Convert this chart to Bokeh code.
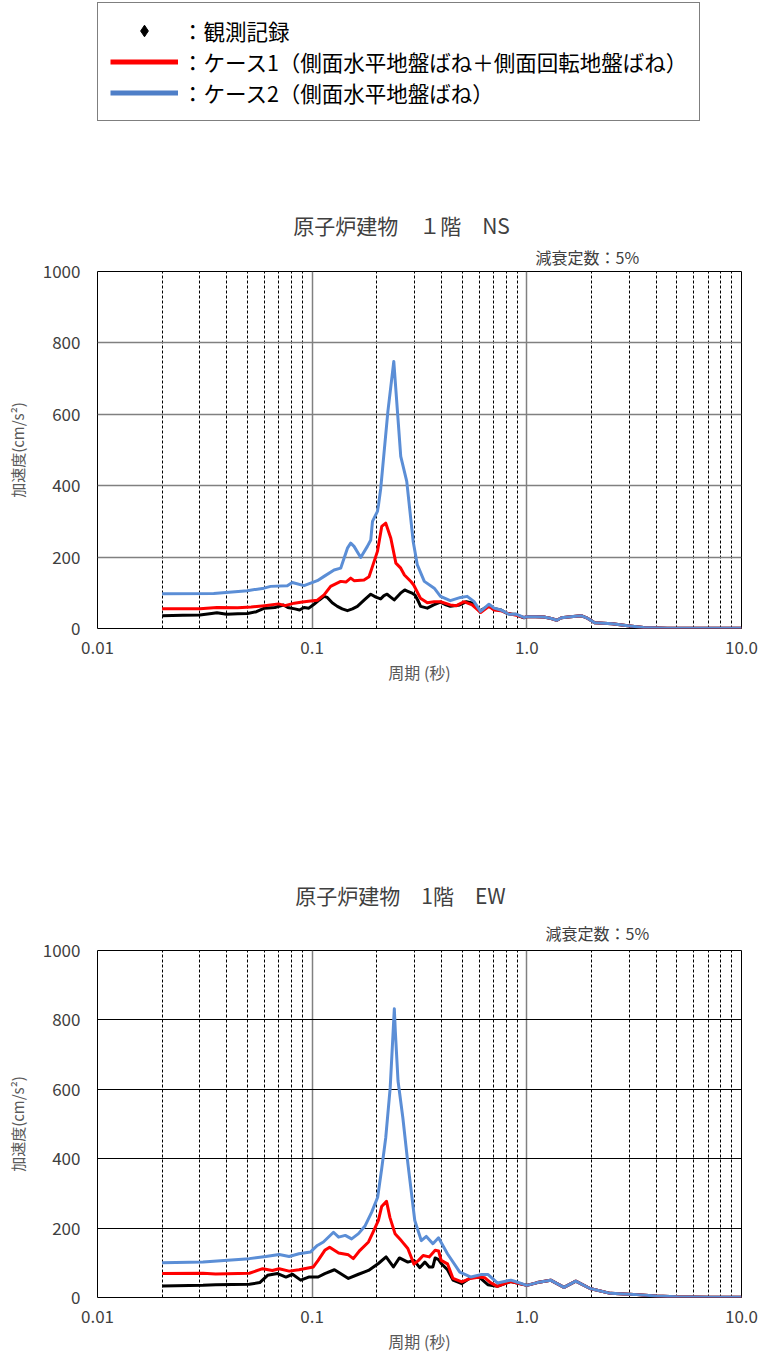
from bokeh.plotting import figure
from bokeh.models import Range1d, FixedTicker, Label, Legend, LegendItem, Title
from bokeh.layouts import column
from bokeh.embed import file_html
from bokeh.resources import INLINE

# ---------------- data ----------------
xtick_values = [0.01, 0.1, 1.0, 10.0]
xtick_labels = ["0.01", "0.1", "1.0", "10.0"]
xminor_values = [0.02, 0.03, 0.04, 0.05, 0.06, 0.07, 0.08, 0.09,
                 0.2, 0.3, 0.4, 0.5, 0.6, 0.7, 0.8, 0.9,
                 2, 3, 4, 5, 6, 7, 8, 9]
ytick_values = [0, 200, 400, 600, 800, 1000]

legend_labels = ["：観測記録",
                 "：ケース1（側面水平地盤ばね＋側面回転地盤ばね）",
                 "：ケース2（側面水平地盤ばね）"]

ns_title = "原子炉建物　１階　NS"
ew_title = "原子炉建物　1階　EW"
damping_text = "減衰定数：5%"
x_label = "周期 (秒)"
y_label = "加速度(cm/s²)"

# NS shared long-period tail
T_ns_tail = [1.1, 1.2, 1.3, 1.38, 1.45, 1.6, 1.79, 1.9, 2.07, 2.5, 2.95, 3.5, 4.5, 6.0, 10.0]
A_ns_tail = [33, 32, 28, 23, 30, 33, 36, 30, 16, 13, 8, 3, 1, 1, 1]

# NS observed (black)
T_ns_obs = [0.02, 0.025, 0.03, 0.034, 0.036, 0.04, 0.045, 0.05, 0.055, 0.06, 0.067, 0.0735,
            0.077, 0.083, 0.0873, 0.0916, 0.0965, 0.102, 0.108, 0.1136, 0.1176, 0.124, 0.131,
            0.138, 0.146, 0.154, 0.1624, 0.175, 0.1875, 0.198, 0.2085, 0.216, 0.2234, 0.232,
            0.2411, 0.258, 0.27, 0.2773, 0.29, 0.3012, 0.31, 0.32, 0.344, 0.368, 0.396, 0.42,
            0.44, 0.487, 0.523, 0.563, 0.603, 0.64, 0.666, 0.70, 0.756, 0.81, 0.85, 0.89, 0.93,
            0.97, 1.0]
A_ns_obs = [36, 37, 38, 42, 44, 40, 41, 42, 47, 57, 59, 66,
            59, 55, 52, 59, 57, 68, 80, 90, 87, 72, 62,
            55, 50, 55, 62, 80, 96, 88, 83, 92, 96, 88,
            80, 99, 108, 105, 100, 94, 80, 62, 57, 66, 74, 66,
            62, 66, 75, 71, 48, 58, 62, 56, 52, 42, 40, 40, 34,
            30, 33]

# NS case 1 (red)
T_ns_c1 = [0.02, 0.03, 0.036, 0.045, 0.052, 0.06, 0.0697, 0.0748, 0.0826, 0.09, 0.0984, 0.1057,
           0.1136, 0.1219, 0.1358, 0.1436, 0.1512, 0.1567, 0.1744, 0.184, 0.191, 0.2014, 0.2109,
           0.2202, 0.2325, 0.2455, 0.2586, 0.269, 0.289, 0.2971, 0.3193, 0.344, 0.37, 0.396,
           0.44, 0.47, 0.509, 0.556, 0.609, 0.666, 0.7036, 0.756, 0.81, 0.906, 0.97, 1.0]
A_ns_c1 = [55, 55, 59, 58, 60, 64, 69, 64, 71, 74, 77, 79,
           94, 118, 132, 130, 141, 134, 136, 145, 174, 216, 286,
           295, 253, 183, 169, 150, 131, 122, 85, 72, 75, 75,
           66, 64, 75, 66, 45, 62, 52, 50, 43, 36, 31, 33]

# NS case 2 (blue)
T_ns_c2 = [0.02, 0.0348, 0.0499, 0.0596, 0.064, 0.0766, 0.0808, 0.0916, 0.0984, 0.1057, 0.1136,
           0.1265, 0.1358, 0.146, 0.1512, 0.1567, 0.1683, 0.1808, 0.1875, 0.191, 0.2014, 0.2037,
           0.2087, 0.2253, 0.24, 0.2586, 0.2758, 0.2955, 0.309, 0.333, 0.3704, 0.396, 0.44,
           0.4914, 0.5275, 0.5665, 0.6088, 0.6664, 0.7036, 0.7564, 0.826, 0.889, 0.97, 1.0]
A_ns_c2 = [97, 98, 106, 113, 118, 120, 129, 120, 127, 134, 146,
           164, 169, 225, 239, 230, 199, 230, 248, 300, 328, 346,
           393, 608, 748, 482, 412, 244, 178, 132, 113, 90, 78,
           87, 90, 76, 48, 68, 57, 52, 40, 40, 31, 33]

# EW shared long-period tail
T_ew_tail = [1.12, 1.29, 1.49, 1.69, 1.97, 2.45, 3.15, 4.0, 5.0, 7.0, 10.0]
A_ew_tail = [43, 50, 29, 47, 26, 12, 9, 4, 2, 1, 1]

# EW observed (black)
T_ew_obs = [0.02, 0.031, 0.0355, 0.051, 0.057, 0.062, 0.069, 0.0755, 0.081, 0.0884, 0.0963,
            0.1066, 0.1145, 0.127, 0.1475, 0.1644, 0.183, 0.2035, 0.221, 0.239, 0.255, 0.279,
            0.298, 0.317, 0.335, 0.351, 0.365, 0.374, 0.388, 0.399, 0.427, 0.453, 0.498, 0.546,
            0.6, 0.658, 0.729, 0.84, 1.0]
A_ew_obs = [33, 35, 37, 38, 43, 64, 69, 59, 67, 50, 59,
            59, 69, 80, 55, 67, 78, 98, 117, 88, 114, 102,
            107, 86, 102, 88, 88, 114, 109, 98, 80, 50, 40, 57,
            59, 37, 32, 46, 35]

# EW case 1 (red)
T_ew_c1 = [0.02, 0.031, 0.0355, 0.051, 0.0588, 0.0652, 0.0702, 0.0781, 0.0868, 0.1013, 0.1066,
           0.1145, 0.1206, 0.1328, 0.1475, 0.1555, 0.167, 0.183, 0.192, 0.2035, 0.2107, 0.222,
           0.2302, 0.2432, 0.26, 0.279, 0.298, 0.313, 0.3288, 0.351, 0.374, 0.388, 0.399, 0.427,
           0.453, 0.498, 0.546, 0.6, 0.636, 0.68, 0.729, 0.84, 1.0]
A_ew_c1 = [69, 70, 68, 70, 83, 78, 83, 76, 80, 88, 107,
           136, 145, 128, 123, 112, 136, 160, 188, 222, 262, 277,
           231, 184, 164, 141, 96, 107, 121, 117, 136, 134, 107, 97,
           55, 45, 55, 59, 57, 42, 32, 46, 35]

# EW case 2 (blue)
T_ew_c2 = [0.02, 0.031, 0.0509, 0.0608, 0.0702, 0.0781, 0.0868, 0.0981, 0.1057, 0.1128, 0.1257,
           0.1328, 0.1426, 0.1527, 0.1644, 0.1766, 0.1894, 0.2019, 0.2107, 0.2201, 0.2309, 0.2414,
           0.244, 0.2512, 0.2645, 0.2793, 0.3006, 0.3224, 0.3403, 0.3652, 0.3878, 0.4268, 0.4872,
           0.5496, 0.6102, 0.66, 0.7293, 0.8426, 0.8838, 1.0]
A_ew_c2 = [100, 102, 112, 118, 124, 118, 126, 131, 150, 160, 188,
           174, 179, 169, 184, 207, 246, 289, 370, 460, 604, 832,
           767, 624, 518, 385, 222, 164, 176, 155, 172, 126, 73,
           59, 66, 66, 42, 50, 46, 35]

# ---------------- styling ----------------
FONT = "Noto Sans CJK JP"
RED = "#FF0000"
BLUE = "#5B8ED6"
BLACK = "#000000"
W = 762
LEFT = 97    # frame left (all figures in the column share it)
RIGHT = 21   # border right


def text_fig(height):
    # frame spans page x LEFT .. W-RIGHT, data x == page x
    f = figure(width=W, height=height, x_range=Range1d(LEFT, W - RIGHT), y_range=Range1d(0, height),
               x_axis_location=None, y_axis_location=None, output_backend="svg",
               toolbar_location=None, title=None,
               min_border_left=LEFT, min_border_right=RIGHT, min_border_top=0, min_border_bottom=0)
    f.grid.visible = False
    f.outline_line_color = None
    f.background_fill_color = "white"
    f.border_fill_color = "white"
    return f


def make_fig(height, top, bottom, hgrid_color, hgrid_width, damp_offset, damp_standoff):
    p = figure(width=W, height=height, x_axis_type="log",
               x_range=Range1d(0.01, 10.0), y_range=Range1d(0, 1000),
               output_backend="svg", toolbar_location=None, title=None,
               min_border_left=LEFT, min_border_right=RIGHT,
               min_border_top=top, min_border_bottom=bottom)
    p.background_fill_color = "white"
    p.border_fill_color = "white"
    p.outline_line_color = "black"
    p.outline_line_width = 1

    xt = FixedTicker(ticks=xtick_values, minor_ticks=xminor_values)
    yt = FixedTicker(ticks=ytick_values)
    p.xaxis.ticker = xt
    p.yaxis.ticker = yt
    p.xgrid.ticker = xt
    p.ygrid.ticker = yt
    p.xaxis.major_label_overrides = dict(zip(xtick_values, xtick_labels))

    for ax in (p.xaxis, p.yaxis):
        ax.axis_line_color = None
        ax.major_tick_line_color = None
        ax.minor_tick_line_color = None
        ax.major_tick_out = 0
        ax.major_label_text_font = FONT
        ax.major_label_text_font_size = "17px"
        ax.major_label_text_color = "#404040"
        ax.axis_label_text_font = FONT
        ax.axis_label_text_font_style = "normal"
        ax.axis_label_text_color = "#595959"
    p.xaxis.axis_label = x_label
    p.yaxis.axis_label = y_label
    p.xaxis.axis_label_text_font_size = "16px"
    p.yaxis.axis_label_text_font_size = "15px"
    p.xaxis.major_label_standoff = 8
    p.xaxis.axis_label_standoff = 3
    p.yaxis.major_label_standoff = 17
    p.yaxis.axis_label_standoff = 12

    p.xgrid.grid_line_color = "#808080"
    p.xgrid.grid_line_width = 1.5
    p.xgrid.minor_grid_line_color = "black"
    p.xgrid.minor_grid_line_dash = "3 2"
    p.xgrid.minor_grid_line_width = 1
    p.ygrid.grid_line_color = hgrid_color
    p.ygrid.grid_line_width = hgrid_width

    p.add_layout(Title(text=damping_text, align="left", offset=damp_offset, standoff=damp_standoff,
                       text_font=FONT, text_font_size="16px", text_font_style="normal",
                       text_color="#404040"), "above")
    return p


# ---- top area: legend + NS title ----
top_h = 239
ftop = text_fig(top_h)
leg_obs = ftop.scatter(T_ns_obs, A_ns_obs, marker="diamond", color=BLACK, visible=False)
leg_c1 = ftop.line(T_ns_c1, A_ns_c1, line_color=RED, line_width=5, visible=False)
leg_c2 = ftop.line(T_ns_c2, A_ns_c2, line_color="#4F7FC8", line_width=5, visible=False)
legend = Legend(items=[LegendItem(label=legend_labels[0], renderers=[leg_obs]),
                       LegendItem(label=legend_labels[1], renderers=[leg_c1]),
                       LegendItem(label=legend_labels[2], renderers=[leg_c2])],
                location=(0, top_h - 121), orientation="vertical",
                glyph_width=68, glyph_height=29, label_height=29, label_width=497,
                label_standoff=4, spacing=0, padding=12, margin=0,
                border_line_color="black", border_line_width=1.5,
                background_fill_color="white", background_fill_alpha=1.0,
                label_text_font=FONT, label_text_font_size="21.5px", label_text_color="black")
ftop.add_layout(legend)
ftop.add_layout(Label(x=401, y=top_h - 224, text=ns_title, text_font=FONT, text_font_size="21px",
                      text_align="center", text_baseline="middle", text_color="#404040"))

# ---- NS chart ----
p1 = make_fig(451, 32, 62, "#808080", 1.5, 535 - LEFT, 6)
p1.line(T_ns_obs + T_ns_tail, A_ns_obs + A_ns_tail, line_color=BLACK, line_width=3, line_join="round")
p1.line(T_ns_c1 + T_ns_tail, A_ns_c1 + A_ns_tail, line_color=RED, line_width=3, line_join="round")
p1.line(T_ns_c2 + T_ns_tail, A_ns_c2 + A_ns_tail, line_color=BLUE, line_width=3, line_join="round")

# ---- middle area: EW title ----
mid_h = 222
fmid = text_fig(mid_h)
fmid.add_layout(Label(x=400, y=mid_h - 204, text=ew_title, text_font=FONT, text_font_size="21px",
                      text_align="center", text_baseline="middle", text_color="#404040"))

# ---- EW chart ----
p2 = make_fig(444, 38, 59, "black", 1, 545 - LEFT, 12)
p2.line(T_ew_obs + T_ew_tail, A_ew_obs + A_ew_tail, line_color=BLACK, line_width=3, line_join="round")
p2.line(T_ew_c1 + T_ew_tail, A_ew_c1 + A_ew_tail, line_color=RED, line_width=3, line_join="round")
p2.line(T_ew_c2 + T_ew_tail, A_ew_c2 + A_ew_tail, line_color=BLUE, line_width=3, line_join="round")

layout = column(ftop, p1, fmid, p2, spacing=0)
open("out.html", "w").write(file_html(layout, INLINE))
